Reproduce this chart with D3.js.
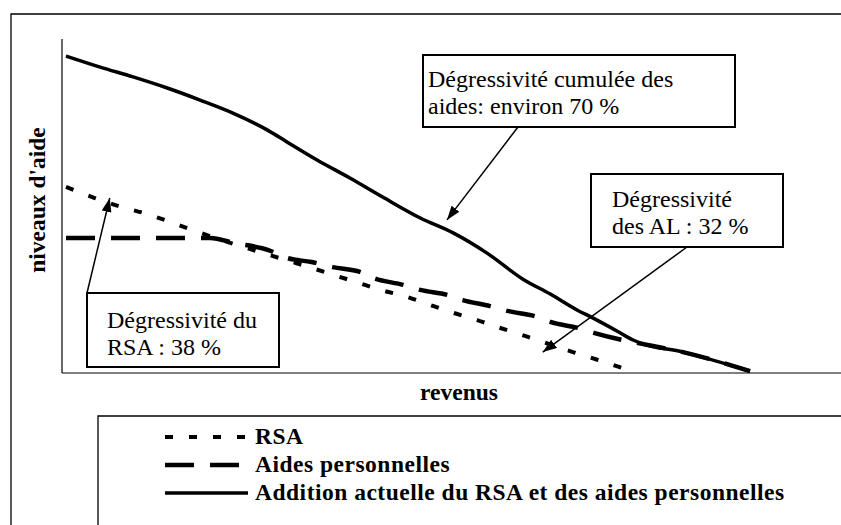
<!DOCTYPE html>
<html lang="fr">
<head>
    <meta charset="utf-8">
    <title>Dégressivité des aides</title>
    <script type="text/javascript" src="https://d3js.org/d3.v7.min.js"></script>
    <style>
        body { margin: 0; background: #fff; }
        svg { display: block; }
    </style>
</head>
<body>
    <div id="chart"></div>
    <script>
        // data (revenus 0-100, niveau d'aide 0-100)
        var rsaX   = [0, 4.2, 7.6, 11.3, 14.8, 18.1, 39.2, 42.8, 46.0, 49.9, 53.2, 56.6, 60.1, 63.5, 67.1, 74.1, 77.8, 81.7];
        var rsaY   = [58.7, 55.2, 52.7, 50.5, 48.0, 45.4, 30.9, 28.4, 26.2, 24.0, 21.5, 19.0, 16.7, 14.2, 11.7, 6.6, 4.1, 1.3];
        var aidesX = [0, 21.1, 24.6, 29.6, 32.3, 35.9, 39.0, 43.0, 44.9, 49.3, 51.8, 55.8, 58.0, 62.0, 64.5, 68.9, 70.8, 74.9, 77.3, 81.4, 83.5, 90.2, 100];
        var aidesY = [42.6, 42.6, 41.0, 38.8, 36.3, 35.0, 33.4, 31.9, 30.0, 27.8, 26.2, 24.6, 23.0, 21.1, 19.6, 17.7, 16.1, 14.2, 12.6, 10.4, 9.5, 6.6, 0.6];
        var totalX = [0, 5.0, 9.8, 14.8, 19.6, 24.4, 29.4, 32.3, 36.7, 41.5, 46.3, 51.8, 56.6, 61.5, 66.8, 70.8, 74.7, 77.0, 80.6, 82.9, 83.9, 90.2, 100];
        var totalY = [100, 96.5, 93.4, 89.9, 86.1, 82.0, 76.7, 72.9, 67.2, 61.5, 55.5, 48.9, 44.2, 37.9, 29.6, 24.9, 19.9, 17.4, 13.2, 10.4, 9.5, 6.6, 0.6];

        var seriesNames = ["RSA", "Aides personnelles", "Addition actuelle du RSA et des aides personnelles"];
        var xTitle = "revenus";
        var yTitle = "niveaux d'aide";

        // annotations: text lines + tip of the arrow in data units
        var noteLines = [
            ["Dégressivité cumulée des", "aides: environ 70 %"],
            ["Dégressivité", "des AL : 32 %"],
            ["Dégressivité du", "RSA : 38 %"]
        ];
        var noteTips = [[55.7, 48.3], [69.7, 6.6], [6.4, 55.2]];

        var serif = "'Liberation Serif', 'Times New Roman', Times, 'DejaVu Serif', serif";

        var W = 841, H = 525;
        var svg = d3.select("#chart").append("svg")
            .attr("width", W)
            .attr("height", H)
            .attr("font-family", serif);

        svg.append("rect").attr("width", W).attr("height", H).attr("fill", "#fff");

        var defs = svg.append("defs");
        defs.append("marker")
            .attr("id", "head")
            .attr("markerUnits", "userSpaceOnUse")
            .attr("viewBox", "0 0 14 10")
            .attr("refX", 14).attr("refY", 5)
            .attr("markerWidth", 14).attr("markerHeight", 10)
            .attr("orient", "auto")
            .append("path")
            .attr("d", "M0,0 L14,5 L0,10 Z")
            .attr("fill", "#000");

        var xScale = d3.scaleLinear().domain([0, 100]).range([66, 750]);
        var yScale = d3.scaleLinear().domain([0, 100]).range([373, 56]);

        // outer frame (top + left only, the rest is cut off)
        svg.append("path")
            .attr("d", "M11," + H + " L11,14 L" + W + ",14")
            .attr("fill", "none").attr("stroke", "#000").attr("stroke-width", 1.3);

        // axes lines
        svg.append("line").attr("x1", 62).attr("x2", 62).attr("y1", 39).attr("y2", 373)
            .attr("stroke", "#000").attr("stroke-width", 1.2);
        svg.append("line").attr("x1", 62).attr("x2", W).attr("y1", 373).attr("y2", 373)
            .attr("stroke", "#000").attr("stroke-width", 1.2);

        svg.append("text")
            .attr("transform", "translate(45,200) rotate(-90)")
            .attr("text-anchor", "middle")
            .attr("font-weight", "bold")
            .attr("font-size", 23.5)
            .text(yTitle);

        svg.append("text")
            .attr("x", 459).attr("y", 400)
            .attr("text-anchor", "middle")
            .attr("font-weight", "bold")
            .attr("font-size", 23.5)
            .text(xTitle);

        function toPoints(xs, ys) {
            return xs.map(function(v, i) { return [v, ys[i]]; });
        }

        var line = d3.line()
            .x(function(d) { return xScale(d[0]); })
            .y(function(d) { return yScale(d[1]); })
            .curve(d3.curveMonotoneX);

        var styles = [
            { width: 4, dash: "8,16" },
            { width: 4.5, dash: "29,16" },
            { width: 3.5, dash: null }
        ];
        var series = [toPoints(rsaX, rsaY), toPoints(aidesX, aidesY), toPoints(totalX, totalY)];

        series.forEach(function(pts, i) {
            svg.append("path")
                .datum(pts)
                .attr("d", line)
                .attr("fill", "none")
                .attr("stroke", "#000")
                .attr("stroke-width", styles[i].width)
                .attr("stroke-dasharray", styles[i].dash);
        });

        // annotation boxes
        var boxes = [
            { x: 423, y: 55, w: 312, h: 72, tx: 428, ty: 87, from: [518, 127] },
            { x: 591, y: 174, w: 192, h: 73, tx: 612, ty: 207, from: [687, 247] },
            { x: 87, y: 293, w: 192, h: 74, tx: 107, ty: 328, from: [87, 293] }
        ];

        boxes.forEach(function(b, i) {
            svg.append("line")
                .attr("x1", b.from[0]).attr("y1", b.from[1])
                .attr("x2", xScale(noteTips[i][0])).attr("y2", yScale(noteTips[i][1]))
                .attr("stroke", "#000")
                .attr("stroke-width", 1.5)
                .attr("marker-end", "url(#head)");
            svg.append("rect")
                .attr("x", b.x).attr("y", b.y)
                .attr("width", b.w).attr("height", b.h)
                .attr("fill", "#fff")
                .attr("stroke", "#000")
                .attr("stroke-width", 2);
            svg.append("text")
                .attr("x", b.tx).attr("y", b.ty)
                .attr("font-size", 24)
                .selectAll("tspan")
                .data(noteLines[i])
                .enter().append("tspan")
                .attr("x", b.tx)
                .attr("dy", function(d, j) { return j === 0 ? 0 : 27; })
                .text(function(d) { return d; });
        });

        // legend
        svg.append("path")
            .attr("d", "M98," + H + " L98,416 L" + W + ",416")
            .attr("fill", "none").attr("stroke", "#000").attr("stroke-width", 1.3);

        var legend = svg.append("g").selectAll("g")
            .data(seriesNames)
            .enter().append("g")
            .attr("transform", function(d, i) { return "translate(0," + (437 + i * 28) + ")"; });

        legend.append("line")
            .attr("x1", 165).attr("x2", 248)
            .attr("y1", 0).attr("y2", 0)
            .attr("stroke", "#000")
            .attr("stroke-width", function(d, i) { return styles[i].width; })
            .attr("stroke-dasharray", function(d, i) { return styles[i].dash; });

        legend.append("text")
            .attr("x", 255).attr("y", 7)
            .attr("font-weight", "bold")
            .attr("font-size", 23.5)
            .attr("letter-spacing", 0.5)
            .text(function(d) { return d; });
    </script>
</body>
</html>
